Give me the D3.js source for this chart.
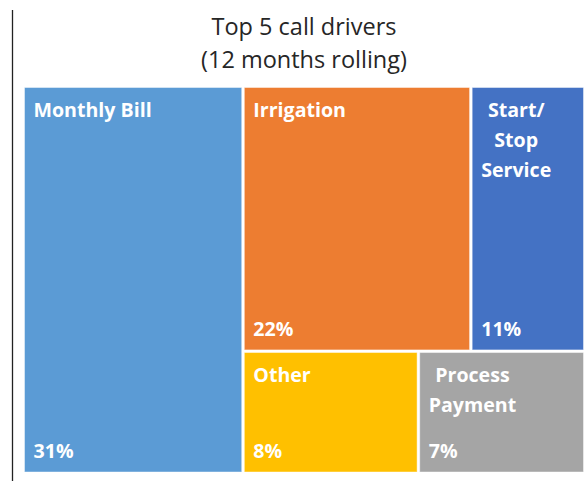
<!DOCTYPE html>
<html>
<head>
<meta charset="utf-8">
<script src="https://cdn.jsdelivr.net/npm/d3@7"></script>
<style>
  html, body { margin: 0; padding: 0; background: #ffffff; }
  svg { display: block; }
</style>
</head>
<body>
<svg id="chart" width="588" height="481"></svg>
<script>
// ---- data ----
const titleLines = ["Top 5 call drivers", "(12 months rolling)"];
const categories = ["Monthly Bill", "Irrigation", "Start/Stop Service", "Other", "Process Payment"];
const values = [31, 22, 11, 7.8, 7.4];
const percentLabels = ["31%", "22%", "11%", "8%", "7%"];
const nameLines = [["Monthly Bill"], ["Irrigation"], ["Start/", "Stop", "Service"], ["Other"], ["Process", "Payment"]];
const colors = ["#5B9BD5", "#ED7D31", "#4472C4", "#FFC000", "#A5A5A5"];
// layout grouping (indices into categories): first column, then two rows
const firstColumn = [0];
const rowsOfRest = [[1, 2], [3, 4]];

// ---- build hierarchy ----
const leaf = i => ({ name: categories[i], idx: i, value: values[i] });
const rootData = {
  name: "root",
  children: [
    ...firstColumn.map(leaf),
    { name: "rest", children: rowsOfRest.map((r, k) => ({ name: "row" + k, children: r.map(leaf) })) }
  ]
};

const X0 = 24.5, Y0 = 87.5, X1 = 583.5, Y1 = 472;
const root = d3.hierarchy(rootData).sum(d => d.value || 0);
d3.treemap()
  .tile(d3.treemapSliceDice)
  .size([X1 - X0, Y1 - Y0])
  .paddingInner(2.6)
  .round(false)(root);

const svg = d3.select("#chart");

// left rule
svg.append("line")
  .attr("x1", 12.5).attr("x2", 12.5)
  .attr("y1", 10).attr("y2", 481)
  .attr("stroke", "#222").attr("stroke-width", 1.3);

// title
const title = svg.append("text")
  .attr("x", (X0 + X1) / 2)
  .attr("text-anchor", "middle")
  .attr("font-family", "'Open Sans', Lato, sans-serif")
  .attr("font-size", 23.5)
  .attr("fill", "#262626");
titleLines.forEach((t, i) => {
  title.append("tspan").attr("x", (X0 + X1) / 2).attr("y", 35 + i * 32.5).text(t);
});

const g = svg.append("g").attr("transform", `translate(${X0},${Y0})`);
const leaves = root.leaves();

const cell = g.selectAll("g.cell").data(leaves).enter().append("g").attr("class", "cell");

cell.append("rect")
  .attr("x", d => d.x0).attr("y", d => d.y0)
  .attr("width", d => d.x1 - d.x0).attr("height", d => d.y1 - d.y0)
  .attr("fill", d => colors[d.data.idx])
  .attr("stroke", "rgba(255,255,255,0.45)")
  .attr("stroke-width", 1);

const fontFam = "'Open Sans', Lato, sans-serif";
const fontSize = 19.6;
const pad = 9;

cell.each(function (d) {
  const sel = d3.select(this);
  const lines = nameLines[d.data.idx];
  const texts = lines.map((ln, i) =>
    sel.append("text")
      .attr("y", d.y0 + 29 + i * 30)
      .attr("font-family", fontFam)
      .attr("font-weight", 700)
      .attr("font-size", fontSize)
      .attr("fill", "#ffffff")
      .text(ln)
  );
  const widths = texts.map(t => t.node().getComputedTextLength());
  const maxW = d3.max(widths);
  texts.forEach((t, i) => t.attr("x", d.x0 + pad + (maxW - widths[i]) / 2));

  sel.append("text")
    .attr("x", d.x0 + pad)
    .attr("y", d.y1 - 14)
    .attr("font-family", fontFam)
    .attr("font-weight", 700)
    .attr("font-size", fontSize)
    .attr("fill", "#ffffff")
    .text(percentLabels[d.data.idx]);
});
</script>
</body>
</html>
